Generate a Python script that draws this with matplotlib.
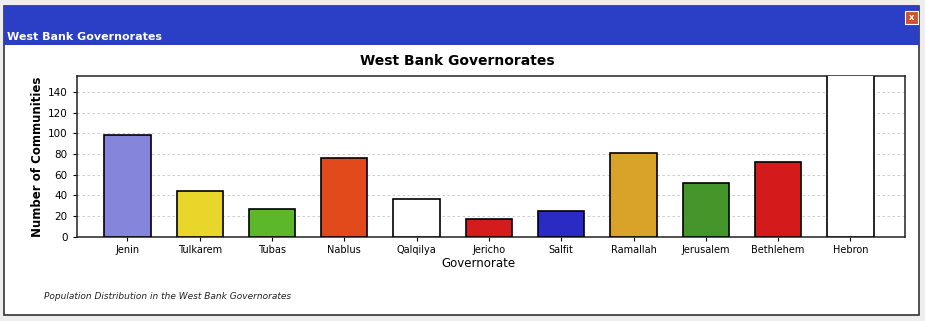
import matplotlib
matplotlib.use('Agg')
import matplotlib.pyplot as plt
from matplotlib.patches import Rectangle

# datos
governorates = ['Jenin', 'Tulkarem', 'Tubas', 'Nablus', 'Qalqilya', 'Jericho',
                'Salfit', 'Ramallah', 'Jerusalem', 'Bethlehem', 'Hebron']
communities = [98, 44, 27, 76, 37, 17, 25, 81, 52, 72, 175]
bar_colors = ['#8585dc', '#e8d62a', '#5cb82a', '#e24a1c', '#ffffff', '#d41c1c',
              '#2a2ac4', '#d9a228', '#44962a', '#d41a1a', '#ffffff']
yticks = [0, 20, 40, 60, 80, 100, 120, 140]

fig = plt.figure(figsize=(9.25, 3.21), dpi=100)
fig.patch.set_facecolor('#eeeeee')

# ventana (detras de los ejes)
fig.add_artist(Rectangle((0.004, 0.02), 0.99, 0.96, transform=fig.transFigure,
                         facecolor='white', edgecolor='#333333', lw=1.2, zorder=-3))
fig.add_artist(Rectangle((0.004, 0.86), 0.99, 0.12, transform=fig.transFigure,
                         facecolor='#2b3ec6', edgecolor='none', zorder=-2))
fig.text(0.008, 0.885, 'West Bank Governorates', color='white', fontsize=8,
         fontweight='bold', ha='left', va='center')
fig.add_artist(Rectangle((0.978, 0.925), 0.014, 0.04, transform=fig.transFigure,
                         facecolor='#d05030', edgecolor='white', lw=0.8, zorder=-1))
fig.text(0.985, 0.945, 'x', color='white', fontsize=6, fontweight='bold',
         ha='center', va='center')

ax = fig.add_axes([0.083, 0.262, 0.895, 0.50])
ax.set_zorder(2)
x = range(len(governorates))
ax.bar(x, communities, width=0.64, color=bar_colors, edgecolor='black', lw=1.2, zorder=3)
ax.set_xlim(-0.7, 10.75)
ax.set_ylim(0, 155)
ax.set_yticks(yticks)
ax.set_xticks(list(x))
ax.set_xticklabels(governorates, fontsize=7)
ax.tick_params(axis='y', labelsize=7.5, length=3, direction='out')
ax.tick_params(axis='x', length=3, direction='out', pad=3)
ax.yaxis.grid(True, linestyle=(0, (3, 3)), color='#c4c4c4', lw=0.6, zorder=0)
for s in ax.spines.values():
    s.set_color('#222222')
    s.set_linewidth(1.1)
ax.set_ylabel('Number of Communities', fontsize=8.5, fontweight='bold', labelpad=3)
ax.set_xlabel('Governorate', fontsize=8.5, labelpad=1, x=0.485)
ax.set_title('West Bank Governorates', fontsize=10, fontweight='bold', pad=8, x=0.46)

fig.text(0.048, 0.075, 'Population Distribution in the West Bank Governorates',
         fontsize=6.5, style='italic', ha='left', va='center', color='#222222')

plt.savefig('out.png', dpi=100, facecolor=fig.get_facecolor())
